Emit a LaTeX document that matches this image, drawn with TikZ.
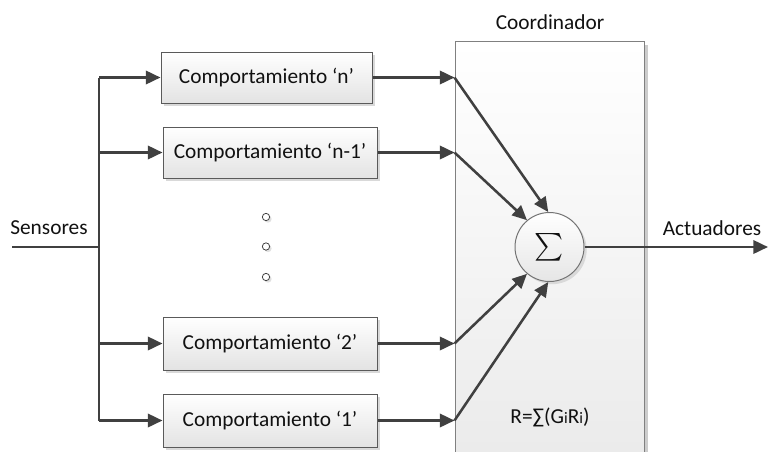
\documentclass[tikz,border=0pt]{standalone}
\usepackage{amsmath}
\usepackage{fontspec}
\setmainfont{Carlito}
\usetikzlibrary{arrows.meta,shadows}
\definecolor{lncol}{HTML}{404040}
\definecolor{bdcol}{HTML}{5A5A5A}
\definecolor{txtcol}{HTML}{111111}
\begin{document}
\begin{tikzpicture}[x=0.75pt,y=-0.75pt,
  font=\fontsize{16}{19}\selectfont, text=txtcol,
  boxstyle/.style={draw=bdcol, line width=0.75pt, top color=white, bottom color=black!11,
    minimum height=38.25pt, inner sep=0pt,
    drop shadow={shadow xshift=2pt, shadow yshift=-2pt, fill=black!15, opacity=1}},
  arr/.style={draw=lncol, line width=1.9pt, -{Triangle[length=11pt,width=10pt]}},
  wire/.style={draw=lncol, line width=1.9pt},
  dotstyle/.style={circle, draw=lncol, line width=0.6pt, fill=white, minimum size=5.5pt, inner sep=0pt,
    drop shadow={shadow xshift=1.5pt, shadow yshift=-1.5pt, fill=black!12, opacity=1}}]
\useasboundingbox (0,0) rectangle (768,451);

% coordinator block
\node[draw=black!50, line width=0.75pt, top color=white, bottom color=black!8,
  minimum width=141.75pt, minimum height=314.25pt, inner sep=0pt,
  drop shadow={shadow xshift=3pt, shadow yshift=-3pt, fill=black!20, opacity=1}] (coord) at (549.5,250.5) {};
\node (coordlbl) at (550,22) {Coordinador};
\node (form) at (550,417) {R=∑(G{\fontsize{12}{14}\selectfont i}R{\fontsize{12}{14}\selectfont i})};

% behaviour boxes
\node[boxstyle, minimum width=158.25pt] (bn)  at (266.5,77.5)  {Comportamiento ‘n’};
\node[boxstyle, minimum width=160.5pt]  (bn1) at (270,152.5)   {Comportamiento ‘n-1’};
\node[boxstyle, minimum width=160.5pt, minimum height=39.75pt] (b2) at (270,343.5) {Comportamiento ‘2’};
\node[boxstyle, minimum width=160.5pt, minimum height=39.75pt] (b1) at (270,420.5) {Comportamiento ‘1’};

% dots
\node[dotstyle] (d1) at (266,217) {};
\node[dotstyle] (d2) at (266,246.5) {};
\node[dotstyle] (d3) at (266,277) {};

% summation node
\node[circle, draw=black!55, line width=0.75pt, top color=white, bottom color=black!10,
  minimum size=51.75pt, inner sep=0pt,
  drop shadow={shadow xshift=2pt, shadow yshift=-2pt, fill=black!15, opacity=1}] (sig) at (549.5,247)
  {\fontsize{20}{24}\selectfont$\sum$};

% sensors input and bus
\node (sens) at (49,228) {Sensores};
\coordinate (sin) at (12,247);
\coordinate (bus) at (99,247);
\draw[wire] (sin) -- (bus);
\draw[wire] (bus |- bn.west) -- (bus |- b1.west);
\draw[arr] (bus |- bn.west) -- (bn.west);
\draw[arr] (bus |- bn1.west) -- (bn1.west);
\draw[arr] (bus |- b2.west) -- (b2.west);
\draw[arr] (bus |- b1.west) -- (b1.west);

% into coordinator
\coordinate (in4) at (coord.west |- bn.east);
\coordinate (in3) at (coord.west |- bn1.east);
\coordinate (in2) at (coord.west |- b2.east);
\coordinate (in1) at (coord.west |- b1.east);
\draw[arr] (bn.east) -- (in4);
\draw[arr] (bn1.east) -- (in3);
\draw[arr] (b2.east) -- (in2);
\draw[arr] (b1.east) -- (in1);
\draw[arr] (in4) -- (sig.92);
\draw[arr] (in3) -- (sig.130);
\draw[arr] (in2) -- (sig.230);
\draw[arr] (in1) -- (sig.268);

% output
\node (act) at (712,228) {Actuadores};
\coordinate (out) at (768,247);
\draw[arr] (sig.east) -- (out);
\end{tikzpicture}
\end{document}
